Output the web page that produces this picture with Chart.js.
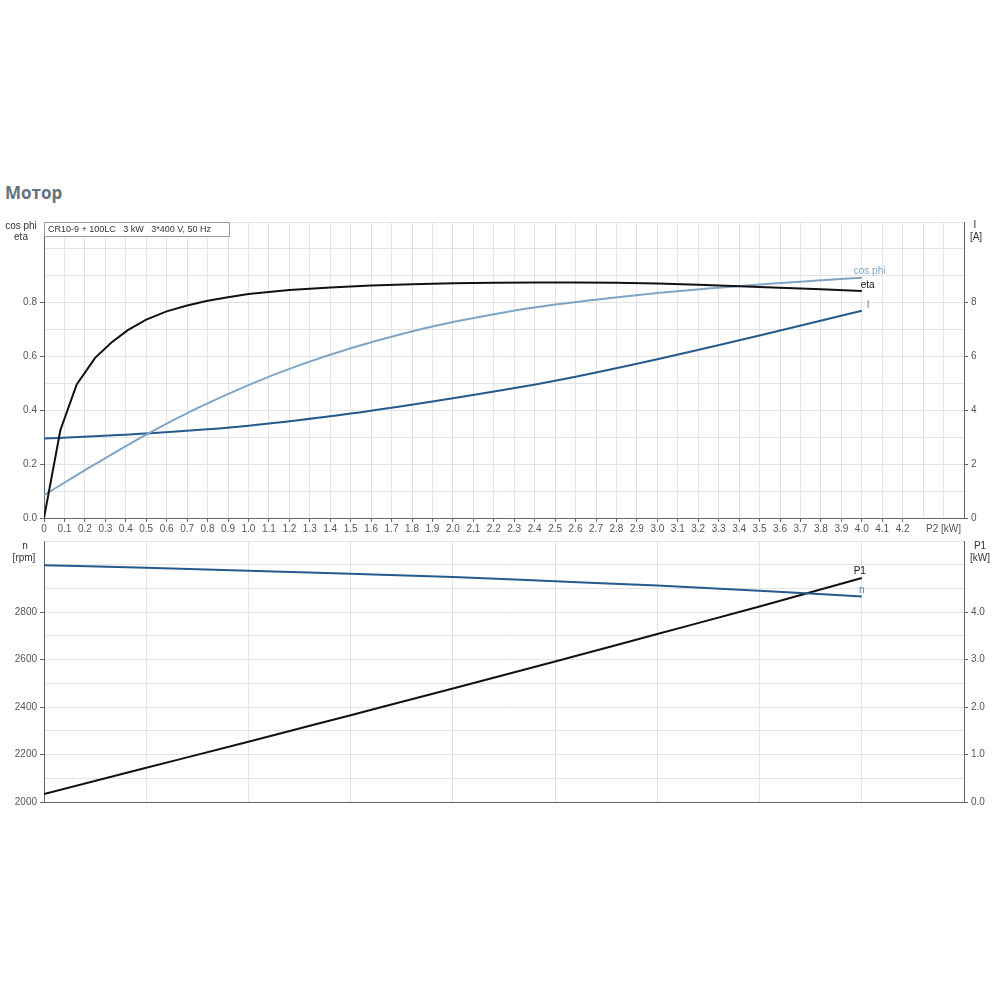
<!DOCTYPE html>
<html lang="ru">
<head>
<meta charset="UTF-8">
<title>Мотор</title>
<script src="https://cdn.jsdelivr.net/npm/chart.js"></script>
<style>
  body { margin: 0; background: #fff; font-family: "Liberation Sans", Arial, sans-serif; }
  #title { position: absolute; left: 5px; top: 181px; font-family: "Open Sans", sans-serif; font-weight: bold; font-size: 17px; color: #65737f; }
  #top { position: absolute; left: 0; top: 210px; }
  #bottom { position: absolute; left: 0; top: 530px; }
</style>
</head>
<body>
<div id="title">Мотор</div>
<canvas id="top" width="1000" height="330"></canvas>
<canvas id="bottom" width="1000" height="290"></canvas>
<script>
// P2 [kW] positions for each curve
const p2Eta = [0, 0.08, 0.16, 0.25, 0.33, 0.41, 0.5, 0.6, 0.7, 0.8, 0.9, 1.0, 1.2, 1.4, 1.6, 1.8, 2.0, 2.2, 2.4, 2.6, 2.8, 3.0, 3.2, 3.4, 3.6, 3.8, 4.0];
const eta = [0, 0.326, 0.496, 0.595, 0.652, 0.698, 0.737, 0.768, 0.79, 0.807, 0.82, 0.832, 0.847, 0.857, 0.864, 0.869, 0.872, 0.874, 0.875, 0.875, 0.874, 0.871, 0.867, 0.861, 0.856, 0.85, 0.844];

const p2Cos = [0, 0.25, 0.5, 0.75, 1.0, 1.25, 1.5, 1.75, 2.0, 2.25, 2.5, 2.75, 3.0, 3.25, 3.5, 3.75, 4.0];
const cosPhi = [0.085, 0.2, 0.31, 0.408, 0.494, 0.568, 0.631, 0.684, 0.728, 0.764, 0.793, 0.816, 0.836, 0.853, 0.868, 0.881, 0.893];

const p2Half = [0, 0.5, 1.0, 1.5, 2.0, 2.5, 3.0, 3.5, 4.0];
const current = [2.95, 3.14, 3.43, 3.88, 4.45, 5.1, 5.9, 6.78, 7.7];
const speed = [2998, 2987, 2975, 2962, 2948, 2930, 2912, 2890, 2866];
const p1 = [0.17, 0.72, 1.27, 1.83, 2.39, 2.96, 3.54, 4.12, 4.72];

const infoText = 'CR10-9 + 100LC   3 kW   3*400 V, 50 Hz';

const axisCol = '#666';
const gridCol = '#e4e4e4';
const tickFont = { family: '"Liberation Sans", Arial, sans-serif', size: 10 };
const black = '#111111';
const lightBlue = '#7fa5c6';
const darkBlue = '#245a8c';

function pts(xs, ys) {
  return xs.map((x, i) => ({ x: x, y: ys[i] }));
}
function r1(v) { return Math.round(v * 10) / 10; }

function txt(ctx, s, x, y, color, align) {
  ctx.fillStyle = color;
  ctx.textAlign = align || 'center';
  ctx.textBaseline = 'middle';
  ctx.fillText(s, x, y);
}

function endOf(chart, idx) {
  const ds = chart.data.datasets[idx];
  const last = ds.data[ds.data.length - 1];
  const xs = chart.scales.x, ys = chart.scales[ds.yAxisID];
  return { x: xs.getPixelForValue(last.x), y: ys.getPixelForValue(last.y) };
}

const topLabels = {
  id: 'topLabels',
  afterDraw(chart) {
    const ctx = chart.ctx, a = chart.chartArea;
    ctx.save();
    ctx.font = '10px "Liberation Sans", Arial, sans-serif';
    txt(ctx, 'cos phi', a.left - 23, a.top + 4, '#333');
    txt(ctx, 'eta', a.left - 23, a.top + 15, '#333');
    txt(ctx, 'I', a.right + 11, a.top + 3, '#333');
    txt(ctx, '[A]', a.right + 12, a.top + 15, '#333');
    // info box
    ctx.fillStyle = '#fff';
    ctx.fillRect(a.left, a.top, 185, 14);
    ctx.strokeStyle = '#999';
    ctx.lineWidth = 1;
    ctx.strokeRect(a.left + 0.5, a.top + 0.5, 185, 14);
    ctx.font = '9px "Liberation Sans", Arial, sans-serif';
    txt(ctx, infoText, a.left + 4, a.top + 7.5, '#333', 'left');
    // curve names
    ctx.font = '10px "Liberation Sans", Arial, sans-serif';
    let p = endOf(chart, 1);
    txt(ctx, 'cos phi', p.x - 8, p.y - 6, lightBlue, 'left');
    p = endOf(chart, 0);
    txt(ctx, 'eta', p.x - 1, p.y - 6, black, 'left');
    p = endOf(chart, 2);
    txt(ctx, 'I', p.x + 5, p.y - 6, '#5b88b3', 'left');
    ctx.restore();
  }
};

const bottomLabels = {
  id: 'bottomLabels',
  afterDraw(chart) {
    const ctx = chart.ctx, a = chart.chartArea;
    ctx.save();
    ctx.font = '10px "Liberation Sans", Arial, sans-serif';
    txt(ctx, 'n', a.left - 19, a.top + 5, '#333');
    txt(ctx, '[rpm]', a.left - 20, a.top + 17, '#333');
    txt(ctx, 'P1', a.right + 16, a.top + 5, '#333');
    txt(ctx, '[kW]', a.right + 16, a.top + 17, '#333');
    let p = endOf(chart, 1);
    txt(ctx, 'P1', p.x - 2, p.y - 7, black);
    p = endOf(chart, 0);
    txt(ctx, 'n', p.x, p.y - 6, '#4a7fb0');
    ctx.restore();
  }
};

Chart.defaults.animation = false;

new Chart(document.getElementById('top'), {
  type: 'line',
  data: {
    datasets: [
      { label: 'eta', data: pts(p2Eta, eta), yAxisID: 'y', borderColor: black, borderWidth: 2, pointRadius: 0, tension: 0 },
      { label: 'cos phi', data: pts(p2Cos, cosPhi), yAxisID: 'y', borderColor: lightBlue, borderWidth: 2, pointRadius: 0, cubicInterpolationMode: 'monotone' },
      { label: 'I', data: pts(p2Half, current), yAxisID: 'y1', borderColor: darkBlue, borderWidth: 2, pointRadius: 0, cubicInterpolationMode: 'monotone' }
    ]
  },
  options: {
    responsive: false,
    devicePixelRatio: 1,
    layout: { padding: { top: 12, left: 0, right: 0, bottom: 0 } },
    plugins: { legend: { display: false }, tooltip: { enabled: false } },
    scales: {
      x: {
        type: 'linear', min: 0, max: 4.5,
        border: { color: axisCol },
        grid: { color: gridCol, tickLength: 4, tickColor: ctx => r1(ctx.tick.value) <= 4.2 ? axisCol : 'transparent' },
        ticks: {
          stepSize: 0.1, autoSkip: false, maxRotation: 0, padding: 1, color: '#555', font: tickFont,
          callback: v => {
            const r = r1(v);
            if (r === 4.4) return 'P2 [kW]';
            if (r > 4.25) return '';
            return r === 0 ? '0' : r.toFixed(1);
          }
        },
        afterFit: s => { s.height = 22; }
      },
      y: {
        position: 'left', min: 0, max: 1.1,
        border: { color: axisCol },
        grid: { color: gridCol, tickLength: 4, tickColor: ctx => (Math.round(ctx.tick.value * 10) % 2 === 0 && ctx.tick.value < 0.85) ? axisCol : 'transparent' },
        ticks: {
          stepSize: 0.1, autoSkip: false, padding: 3, color: '#555', font: tickFont,
          callback: v => {
            const k = Math.round(v * 10);
            return (k % 2 === 0 && k <= 8) ? (k / 10).toFixed(1) : '';
          }
        },
        afterFit: s => { s.width = 44; }
      },
      y1: {
        position: 'right', min: 0, max: 11,
        border: { color: axisCol },
        grid: { drawOnChartArea: false, tickLength: 4, tickColor: ctx => (ctx.tick.value % 2 === 0 && ctx.tick.value <= 8) ? axisCol : 'transparent' },
        ticks: {
          stepSize: 1, autoSkip: false, padding: 3, color: '#555', font: tickFont,
          callback: v => (v % 2 === 0 && v <= 8) ? String(v) : ''
        },
        afterFit: s => { s.width = 36; }
      }
    }
  },
  plugins: [topLabels]
});

new Chart(document.getElementById('bottom'), {
  type: 'line',
  data: {
    datasets: [
      { label: 'n', data: pts(p2Half, speed), yAxisID: 'y', borderColor: darkBlue, borderWidth: 2, pointRadius: 0, cubicInterpolationMode: 'monotone' },
      { label: 'P1', data: pts(p2Half, p1), yAxisID: 'y1', borderColor: black, borderWidth: 2, pointRadius: 0, cubicInterpolationMode: 'monotone' }
    ]
  },
  options: {
    responsive: false,
    devicePixelRatio: 1,
    layout: { padding: { top: 11, left: 0, right: 0, bottom: 0 } },
    plugins: { legend: { display: false }, tooltip: { enabled: false } },
    scales: {
      x: {
        type: 'linear', min: 0, max: 4.5,
        border: { color: axisCol },
        grid: { color: gridCol, drawTicks: false },
        ticks: { stepSize: 0.5, display: false },
        afterFit: s => { s.height = 18; }
      },
      y: {
        position: 'left', min: 2000, max: 3100,
        border: { color: axisCol },
        grid: { color: gridCol, tickLength: 4, tickColor: ctx => (ctx.tick.value % 200 === 0 && ctx.tick.value <= 2800) ? axisCol : 'transparent' },
        ticks: {
          stepSize: 100, autoSkip: false, padding: 3, color: '#555', font: tickFont,
          callback: v => (v % 200 === 0 && v <= 2800) ? String(v) : ''
        },
        afterFit: s => { s.width = 44; }
      },
      y1: {
        position: 'right', min: 0, max: 5.5,
        border: { color: axisCol },
        grid: { drawOnChartArea: false, tickLength: 4, tickColor: ctx => (Math.round(ctx.tick.value * 10) % 10 === 0 && ctx.tick.value <= 4.05) ? axisCol : 'transparent' },
        ticks: {
          stepSize: 0.5, autoSkip: false, padding: 3, color: '#555', font: tickFont,
          callback: v => (Math.round(v * 10) % 10 === 0 && v <= 4.05) ? v.toFixed(1) : ''
        },
        afterFit: s => { s.width = 36; }
      }
    }
  },
  plugins: [bottomLabels]
});
</script>
</body>
</html>
